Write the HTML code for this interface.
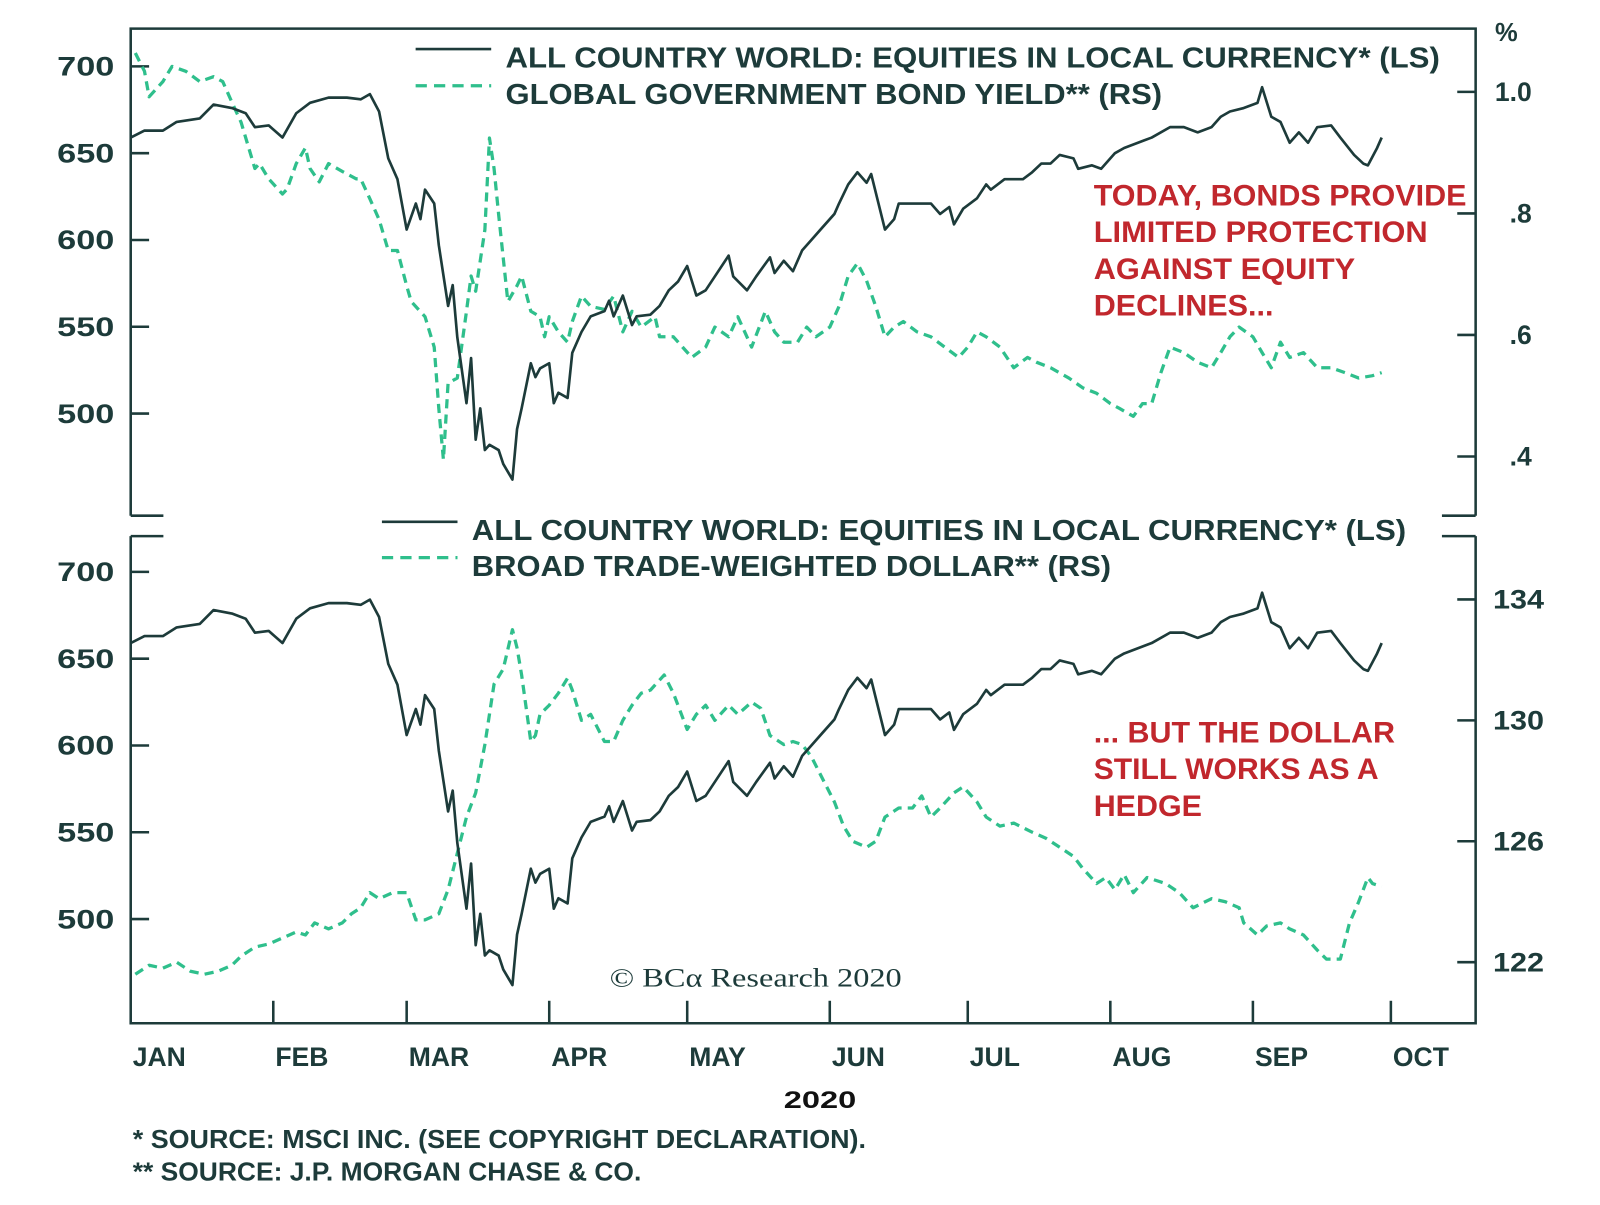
<!DOCTYPE html>
<html><head><meta charset="utf-8"><style>
html,body{margin:0;padding:0;background:#fff;}
svg{display:block;font-family:"Liberation Sans",sans-serif;}
</style></head><body>
<svg id="chart" width="1600" height="1205" viewBox="0 0 1600 1205" xmlns="http://www.w3.org/2000/svg">
<g transform="scale(1.0212)">
<g id="frame"></g>
<g id="marks"></g>
<g id="labels"></g>
</g>
</svg>
<script>
const eqDays=[0,3,7,10,15,18,22,25,27,30,33,36,39,43,47,50,52,54,56,58,60,62,63,64,66,67,69,70,71,73,74,75,76,77,78,80,81,83,84,85,87,88,89,91,92,93,95,96,98,100,103,104,105,107,109,110,113,115,117,119,121,123,125,127,130,131,134,136,139,140,142,144,146,148,150,153,154,156,158,160,161,164,166,167,171,174,176,178,179,181,184,186,187,190,194,196,198,200,202,205,206,209,211,214,216,219,222,226,229,232,235,237,239,242,245,246,248,250,252,254,256,258,261,263,266,268,269,271,272];
const eqVals=[659,663,663,668,670,678,676,673,665,666,659,673,679,682,682,681,684,674,647,635,606,621,612,629,621,597,562,574,544,506,532,485,503,479,482,479,471,462,491,503,529,521,526,529,506,512,509,535,547,556,559,565,556,568,551,556,557,562,571,576,585,568,571,579,591,579,571,579,590,581,588,582,594,600,606,615,621,632,639,633,638,606,612,621,621,621,615,619,609,618,624,632,629,635,635,639,644,644,649,647,641,643,641,650,653,656,659,665,665,662,665,671,674,676,679,688,671,668,656,662,656,665,666,659,649,644,643,653,659];
const bondDays=[1,3,4,7,9,12,15,18,20,22,24,27,28,30,33,34,36,38,39,41,43,46,49,50,52,54,56,58,60,61,64,66,67,68,69,71,73,74,75,77,78,79,80,82,84,85,87,89,90,91,93,95,96,98,100,103,105,107,109,111,114,115,118,120,122,125,127,130,132,135,138,140,142,145,147,149,152,154,156,158,160,162,164,166,168,171,174,177,180,182,184,186,189,192,195,197,200,204,207,210,213,215,218,220,222,224,226,229,232,235,237,239,241,244,246,248,250,252,255,258,261,264,267,270,272];
const bondVals=[1.064,1.034,0.992,1.017,1.042,1.034,1.017,1.025,1.017,0.983,0.950,0.874,0.882,0.857,0.832,0.840,0.882,0.908,0.874,0.852,0.882,0.869,0.857,0.857,0.824,0.790,0.739,0.739,0.681,0.655,0.630,0.580,0.479,0.395,0.521,0.529,0.639,0.697,0.672,0.773,0.924,0.874,0.798,0.655,0.681,0.697,0.639,0.630,0.597,0.630,0.605,0.588,0.622,0.664,0.647,0.642,0.664,0.605,0.639,0.613,0.630,0.597,0.597,0.580,0.563,0.580,0.613,0.597,0.630,0.580,0.639,0.605,0.588,0.588,0.613,0.597,0.613,0.647,0.697,0.718,0.689,0.647,0.597,0.613,0.622,0.605,0.597,0.580,0.563,0.580,0.605,0.597,0.580,0.546,0.563,0.555,0.546,0.529,0.513,0.504,0.487,0.479,0.466,0.487,0.487,0.538,0.580,0.571,0.555,0.546,0.571,0.597,0.613,0.597,0.571,0.546,0.588,0.563,0.571,0.546,0.546,0.538,0.529,0.533,0.538];
const usdDays=[1,4,7,10,13,16,19,22,24,27,30,33,36,38,40,43,46,48,50,52,54,57,60,62,64,67,69,71,73,75,77,79,81,83,84,85,87,88,89,91,93,95,96,98,100,103,105,107,109,111,113,116,118,119,121,123,125,127,130,132,135,137,139,142,144,146,148,150,153,155,157,160,162,164,167,170,172,174,176,179,181,184,186,189,192,196,199,202,205,207,210,212,214,216,218,221,225,228,231,235,238,241,242,245,247,250,252,255,258,260,263,265,267,269,270,272];
const usdVals=[121.6,121.9,121.8,122.0,121.7,121.6,121.7,121.9,122.2,122.5,122.6,122.8,123.0,122.9,123.3,123.1,123.3,123.6,123.8,124.3,124.1,124.3,124.3,123.4,123.4,123.6,124.4,125.6,126.8,127.6,129.2,131.2,131.7,133.0,132.4,131.5,129.3,129.5,130.2,130.5,130.9,131.4,131.0,130.0,130.2,129.3,129.3,130.0,130.5,130.9,131.0,131.5,130.9,130.5,129.7,130.2,130.5,130.0,130.5,130.2,130.6,130.4,129.5,129.2,129.3,129.2,128.8,128.2,127.3,126.5,126.0,125.8,126.0,126.8,127.1,127.1,127.5,126.8,127.1,127.6,127.8,127.3,126.8,126.5,126.6,126.3,126.1,125.8,125.5,125.1,124.6,124.8,124.4,124.9,124.3,124.8,124.6,124.3,123.8,124.1,124.0,123.8,123.3,122.9,123.2,123.3,123.1,122.9,122.4,122.1,122.1,123.3,124.0,124.8,124.6,124.5];
const monthLabels=["JAN","FEB","MAR","APR","MAY","JUN","JUL","AUG","SEP","OCT"];
const monthStarts=[0,31,60,91,121,152,182,213,244,274];
const leftTicks=[700,650,600,550,500];
const bondTicks=[1.0,0.8,0.6,0.4];
const bondTickLabels=["1.0",".8",".6",".4"];
const usdTicks=[134,130,126,122];

const NS="http://www.w3.org/2000/svg";
const DARK="#1d3b3a", GREEN="#2fbf8c", RED="#c1272d";
const X0=128,X1=1445;
const xS=d=>128+d*(1362-128)/274;
const eqTopY=v=>65+(700-v)*1.7;
const eqBotY=v=>560+(700-v)*1.7;
const bondY=v=>90+(1.0-v)*595;
const usdY=v=>587+(134-v)*29.6;
const frame=document.getElementById('frame'),marks=document.getElementById('marks'),labels=document.getElementById('labels');
function mk(tag,attrs,parent){const e=document.createElementNS(NS,tag);for(const k in attrs)e.setAttribute(k,attrs[k]);parent.appendChild(e);return e;}
function txt(s,x,y,size,fill,anchor,weight,parent,fam,len){const t=mk('text',{x:x,y:y,'font-size':size,fill:fill,'text-anchor':anchor||'start','font-weight':weight||'bold'},parent);if(fam)t.setAttribute('font-family',fam);if(len){t.setAttribute('textLength',len);t.setAttribute('lengthAdjust','spacingAndGlyphs');}t.textContent=s;return t;}

const f1=mk('path',{d:`M${X0},505 L${X0},28 L${X1},28 L${X1},505 M${X0},505 L160,505 M1412,505 L${X1},505`,fill:'none',stroke:DARK,'stroke-width':2.5},frame);


const f2=mk('path',{d:`M${X0},525 L160,525 M1412,525 L${X1},525 M${X0},525 L${X0},1002 L${X1},1002 L${X1},525`,fill:'none',stroke:DARK,'stroke-width':2.5},frame);



leftTicks.forEach(v=>{
  [[eqTopY,'top'],[eqBotY,'bottom']].forEach(([fy,p])=>{
    const y=fy(v);
    const l=mk('line',{x1:X0,x2:X0+18,y1:y,y2:y,stroke:DARK,'stroke-width':2.5},frame);
    
    
    const t=txt(String(v),112,y+9,26,DARK,'end','bold',labels,null,56);
    
    
  });
});
bondTicks.forEach((v,i)=>{
  const y=bondY(v);
  const l=mk('line',{x1:X1-18,x2:X1,y1:y,y2:y,stroke:DARK,'stroke-width':2.5},frame);
  
  
  const t=txt(bondTickLabels[i],1500,y+9,26,DARK,'end','bold',labels);
  
  
});
usdTicks.forEach(v=>{
  const y=usdY(v);
  const l=mk('line',{x1:X1-18,x2:X1,y1:y,y2:y,stroke:DARK,'stroke-width':2.5},frame);
  
  
  const t=txt(String(v),1462,y+9,26,DARK,'start','bold',labels,null,50);
  
  
});
const pct=txt('%',1464,40,25,DARK,'start','bold',labels);



monthStarts.forEach((d,i)=>{
  const x=xS(d);
  if(i>0){const l=mk('line',{x1:x,x2:x,y1:980,y2:1002,stroke:DARK,'stroke-width':2.5},frame);
  
  }
  const t=txt(monthLabels[i],x+2,1044,26,DARK,'start','bold',labels);
  
  
});

function series(days,vals,fx,fy,stroke,dash,name){
  const d=days.map((dd,i)=>(i?'L':'M')+fx(dd).toFixed(1)+','+fy(vals[i]).toFixed(1)).join(' ');
  const p=mk('path',{d:d,fill:'none',stroke:stroke,'stroke-width':dash?3.2:2.6,'stroke-linejoin':'round'},marks);
  if(dash)p.setAttribute('stroke-dasharray','9 6');
  
  
}
series(bondDays,bondVals,xS,bondY,GREEN,true,'bond-yield-line');
series(eqDays,eqVals,xS,eqTopY,DARK,false,'equities-line-top');
series(usdDays,usdVals,xS,usdY,GREEN,true,'dollar-line');
series(eqDays,eqVals,xS,eqBotY,DARK,false,'equities-line-bottom');

function legend(y1,y2,x0,tx,s1,s2,l1,l2,nm){
  const a=mk('line',{x1:x0,x2:x0+74,y1:y1,y2:y1,stroke:DARK,'stroke-width':2.6},labels);
  
  
  const b=mk('line',{x1:x0,x2:x0+74,y1:y2,y2:y2,stroke:GREEN,'stroke-width':3.2,'stroke-dasharray':'11 7'},labels);
  
  
  const t1=txt(s1,tx,y1+18,28,DARK,'start','bold',labels,null,l1);
  
  
  const t2=txt(s2,tx,y2+18,28,DARK,'start','bold',labels,null,l2);
  
  
}
legend(48,84,407,495,'ALL COUNTRY WORLD: EQUITIES IN LOCAL CURRENCY* (LS)','GLOBAL GOVERNMENT BOND YIELD** (RS)',915,643,'top');
legend(511,546,374,462,'ALL COUNTRY WORLD: EQUITIES IN LOCAL CURRENCY* (LS)','BROAD TRADE-WEIGHTED DOLLAR** (RS)',915,626,'bottom');

[['TODAY, BONDS PROVIDE',201,365],['LIMITED PROTECTION',237,327],['AGAINST EQUITY',273,256],['DECLINES...',309,176]].forEach(([s,y,w])=>{
  const t=txt(s,1071,y,29,RED,'start','bold',labels,null,w);
  
  
});
[['... BUT THE DOLLAR',727,295],['STILL WORKS AS A',763,279],['HEDGE',799,106]].forEach(([s,y,w])=>{
  const t=txt(s,1071,y,29,RED,'start','bold',labels,null,w);
  
  
});
const cp=txt('© BCα Research 2020',597,966,26,DARK,'start','normal',labels,'"Liberation Serif",serif',286);


const yr=txt('2020',803,1085,24,'#111','middle','bold',labels,null,71);


const n1=txt('*  SOURCE: MSCI INC. (SEE COPYRIGHT DECLARATION).',130,1124,25,DARK,'start','bold',labels,null,718);


const n2=txt('** SOURCE: J.P. MORGAN CHASE & CO.',130,1156,25,DARK,'start','bold',labels,null,498);


</script>
</body></html>
